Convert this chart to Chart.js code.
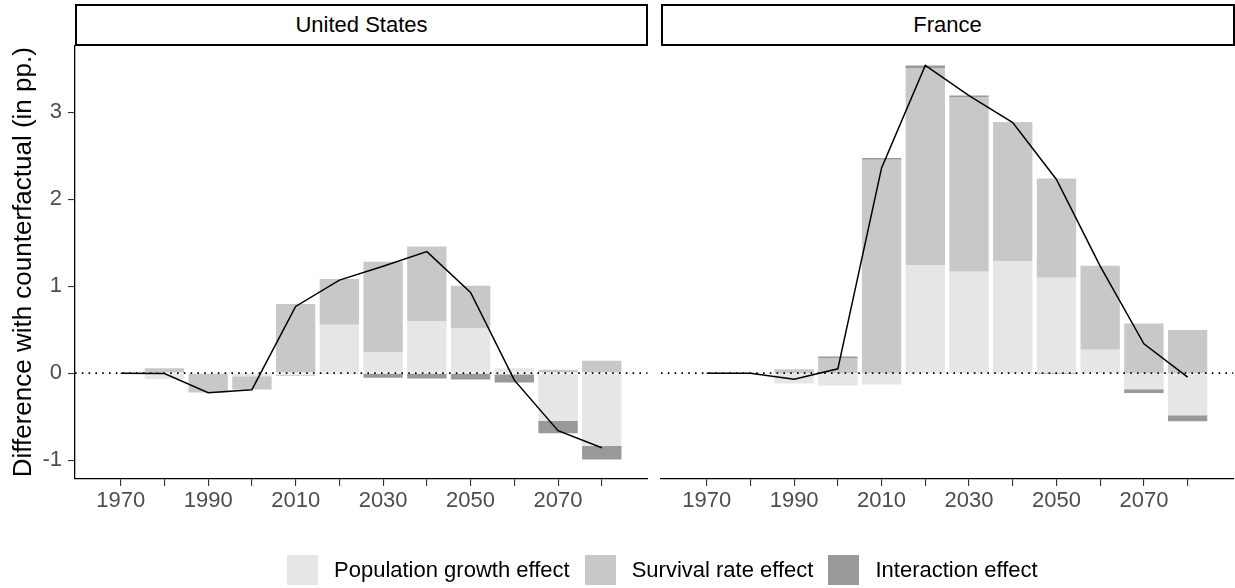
<!DOCTYPE html>
<html>
<head>
<meta charset="utf-8">
<script src="https://cdn.jsdelivr.net/npm/chart.js@4.4.1/dist/chart.umd.min.js"></script>
<style>
  body { margin: 0; background: #fff; }
  #wrap { position: relative; width: 1235px; height: 588px; font-family: "Liberation Sans", Arial, sans-serif; }
  canvas { position: absolute; top: 0; }
  .strip { position: absolute; top: 3.5px; height: 42px; box-sizing: border-box; border: 2px solid #000;
           font-size: 22px; display: flex; align-items: center; justify-content: center; background: #fff; }
  #legend { position: absolute; top: 555px; left: 287px; height: 30px; display: flex; align-items: center; font-size: 22px; white-space: nowrap; }
  .key { display: inline-block; width: 31px; height: 30px; }
  .lab { margin-left: 16px; margin-right: 15px; }
</style>
</head>
<body>
<div id="wrap">
  <canvas id="us" width="648" height="588" style="left:0"></canvas>
  <canvas id="fr" width="587" height="588" style="left:648px"></canvas>
  <div class="strip" style="left:75px;width:573px">United States</div>
  <div class="strip" style="left:660.5px;width:574px">France</div>
  <div id="legend"></div>
</div>
<script>
// decades (bars centred on each)
const years = [1970, 1980, 1990, 2000, 2010, 2020, 2030, 2040, 2050, 2060, 2070, 2080];
const xLabels = [1970, 1990, 2010, 2030, 2050, 2070];
const yTicks = [-1, 0, 1, 2, 3];

const seriesNames = ["Population growth effect", "Survival rate effect", "Interaction effect"];

// United States
const usPopulation  = [0, -0.066, 0, -0.035, -0.025, 0.556, 0.242, 0.599, 0.514, 0.057, -0.55, -0.837];
const usSurvival    = [0, 0.057, -0.223, -0.154, 0.795, 0.527, 1.04, 0.856, 0.492, -0.02, 0.038, 0.142];
const usInteraction = [0, 0, 0, 0, -0.005, -0.01, -0.054, -0.061, -0.073, -0.088, -0.141, -0.154];
const usTotal       = [0, -0.005, -0.225, -0.19, 0.767, 1.07, 1.228, 1.397, 0.929, -0.08, -0.661, -0.857];

// France
const frPopulation  = [0, 0, -0.12, -0.143, -0.131, 1.24, 1.167, 1.29, 1.098, 0.268, -0.184, -0.484];
const frSurvival    = [0, 0, 0.046, 0.168, 2.454, 2.262, 2.008, 1.586, 1.14, 0.968, 0.572, 0.495];
const frInteraction = [0, 0, 0, 0.023, 0.019, 0.035, 0.016, 0.005, -0.01, 0, -0.043, -0.069];
const frTotal       = [0, 0, -0.07, 0.05, 2.36, 3.537, 3.19, 2.88, 2.227, 1.23, 0.338, -0.046];

const fills = ["#E6E6E6", "#C8C8C8", "#999999"];
const FONT = "'Liberation Sans', Arial, sans-serif";

// legend
const legend = document.getElementById("legend");
seriesNames.forEach((name, i) => {
  const k = document.createElement("span");
  k.className = "key";
  k.style.background = fills[i];
  const t = document.createElement("span");
  t.className = "lab";
  t.textContent = name;
  legend.appendChild(k);
  legend.appendChild(t);
});

// dotted zero line, drawn just before the total line
const zeroLine = {
  id: "zeroLine",
  beforeDatasetDraw(chart, args) {
    if (args.meta.type !== "line") return;
    const { ctx, chartArea } = chart;
    const y = chart.scales.y.getPixelForValue(0);
    ctx.save();
    ctx.setLineDash([1.6, 5.2]);
    ctx.lineWidth = 1.6;
    ctx.strokeStyle = "#000";
    ctx.beginPath();
    ctx.moveTo(chartArea.left, y);
    ctx.lineTo(chartArea.right, y);
    ctx.stroke();
    ctx.restore();
  }
};

const pts = arr => years.map((yr, i) => ({ x: yr, y: arr[i] }));

function panel(id, pop, surv, inter, total, showY, pad) {
  const bars = [pop, surv, inter].map((arr, i) => ({
    type: "bar",
    label: seriesNames[i],
    data: pts(arr),
    backgroundColor: fills[i],
    borderWidth: 0,
    stack: "effects",
    barPercentage: 0.9,
    categoryPercentage: 1
  }));

  return new Chart(document.getElementById(id), {
    type: "bar",
    data: {
      datasets: [
        {
          type: "line",
          label: "Total",
          data: pts(total),
          borderColor: "#000",
          borderWidth: 1.5,
          pointRadius: 0,
          tension: 0,
          stack: "total",
          order: -1
        },
        ...bars
      ]
    },
    options: {
      responsive: false,
      animation: false,
      devicePixelRatio: 1,
      layout: { padding: pad },
      plugins: { legend: { display: false }, tooltip: { enabled: false } },
      scales: {
        x: {
          type: "linear",
          stacked: true,
          offset: false,
          min: 1959.55,
          max: 2090.45,
          afterBuildTicks: s => { s.ticks = years.map(v => ({ value: v })); },
          afterFit: s => { s.height = 50; },
          ticks: {
            autoSkip: false,
            maxRotation: 0,
            color: "#4D4D4D",
            font: { family: FONT, size: 22 },
            padding: 2,
            callback: v => xLabels.includes(v) ? String(v) : ""
          },
          grid: { offset: false, drawOnChartArea: false, tickLength: 7, color: "#333", lineWidth: 1.1 },
          border: { display: true, color: "#000", width: 1.3 }
        },
        y: {
          stacked: true,
          display: showY,
          min: -1.2165,
          max: 3.7665,
          afterBuildTicks: s => { s.ticks = yTicks.map(v => ({ value: v })); },
          afterFit: s => { s.width = showY ? 75 : 0; },
          ticks: { color: "#4D4D4D", font: { family: FONT, size: 22 }, padding: 6 },
          grid: { drawOnChartArea: false, tickLength: 7, color: "#333", lineWidth: 1.1 },
          border: { display: true, color: "#000", width: 1.3 },
          title: {
            display: true,
            text: "Difference with counterfactual (in pp.)",
            color: "#000",
            font: { family: FONT, size: 26 },
            padding: { top: 8, bottom: 0 }
          }
        }
      }
    },
    plugins: [zeroLine]
  });
}

panel("us", usPopulation, usSurvival, usInteraction, usTotal, true,
  { top: 45.5, bottom: 59, left: 0, right: 0.5 });
panel("fr", frPopulation, frSurvival, frInteraction, frTotal, false,
  { top: 45.5, bottom: 59, left: 13, right: 1.7 });
</script>
</body>
</html>
